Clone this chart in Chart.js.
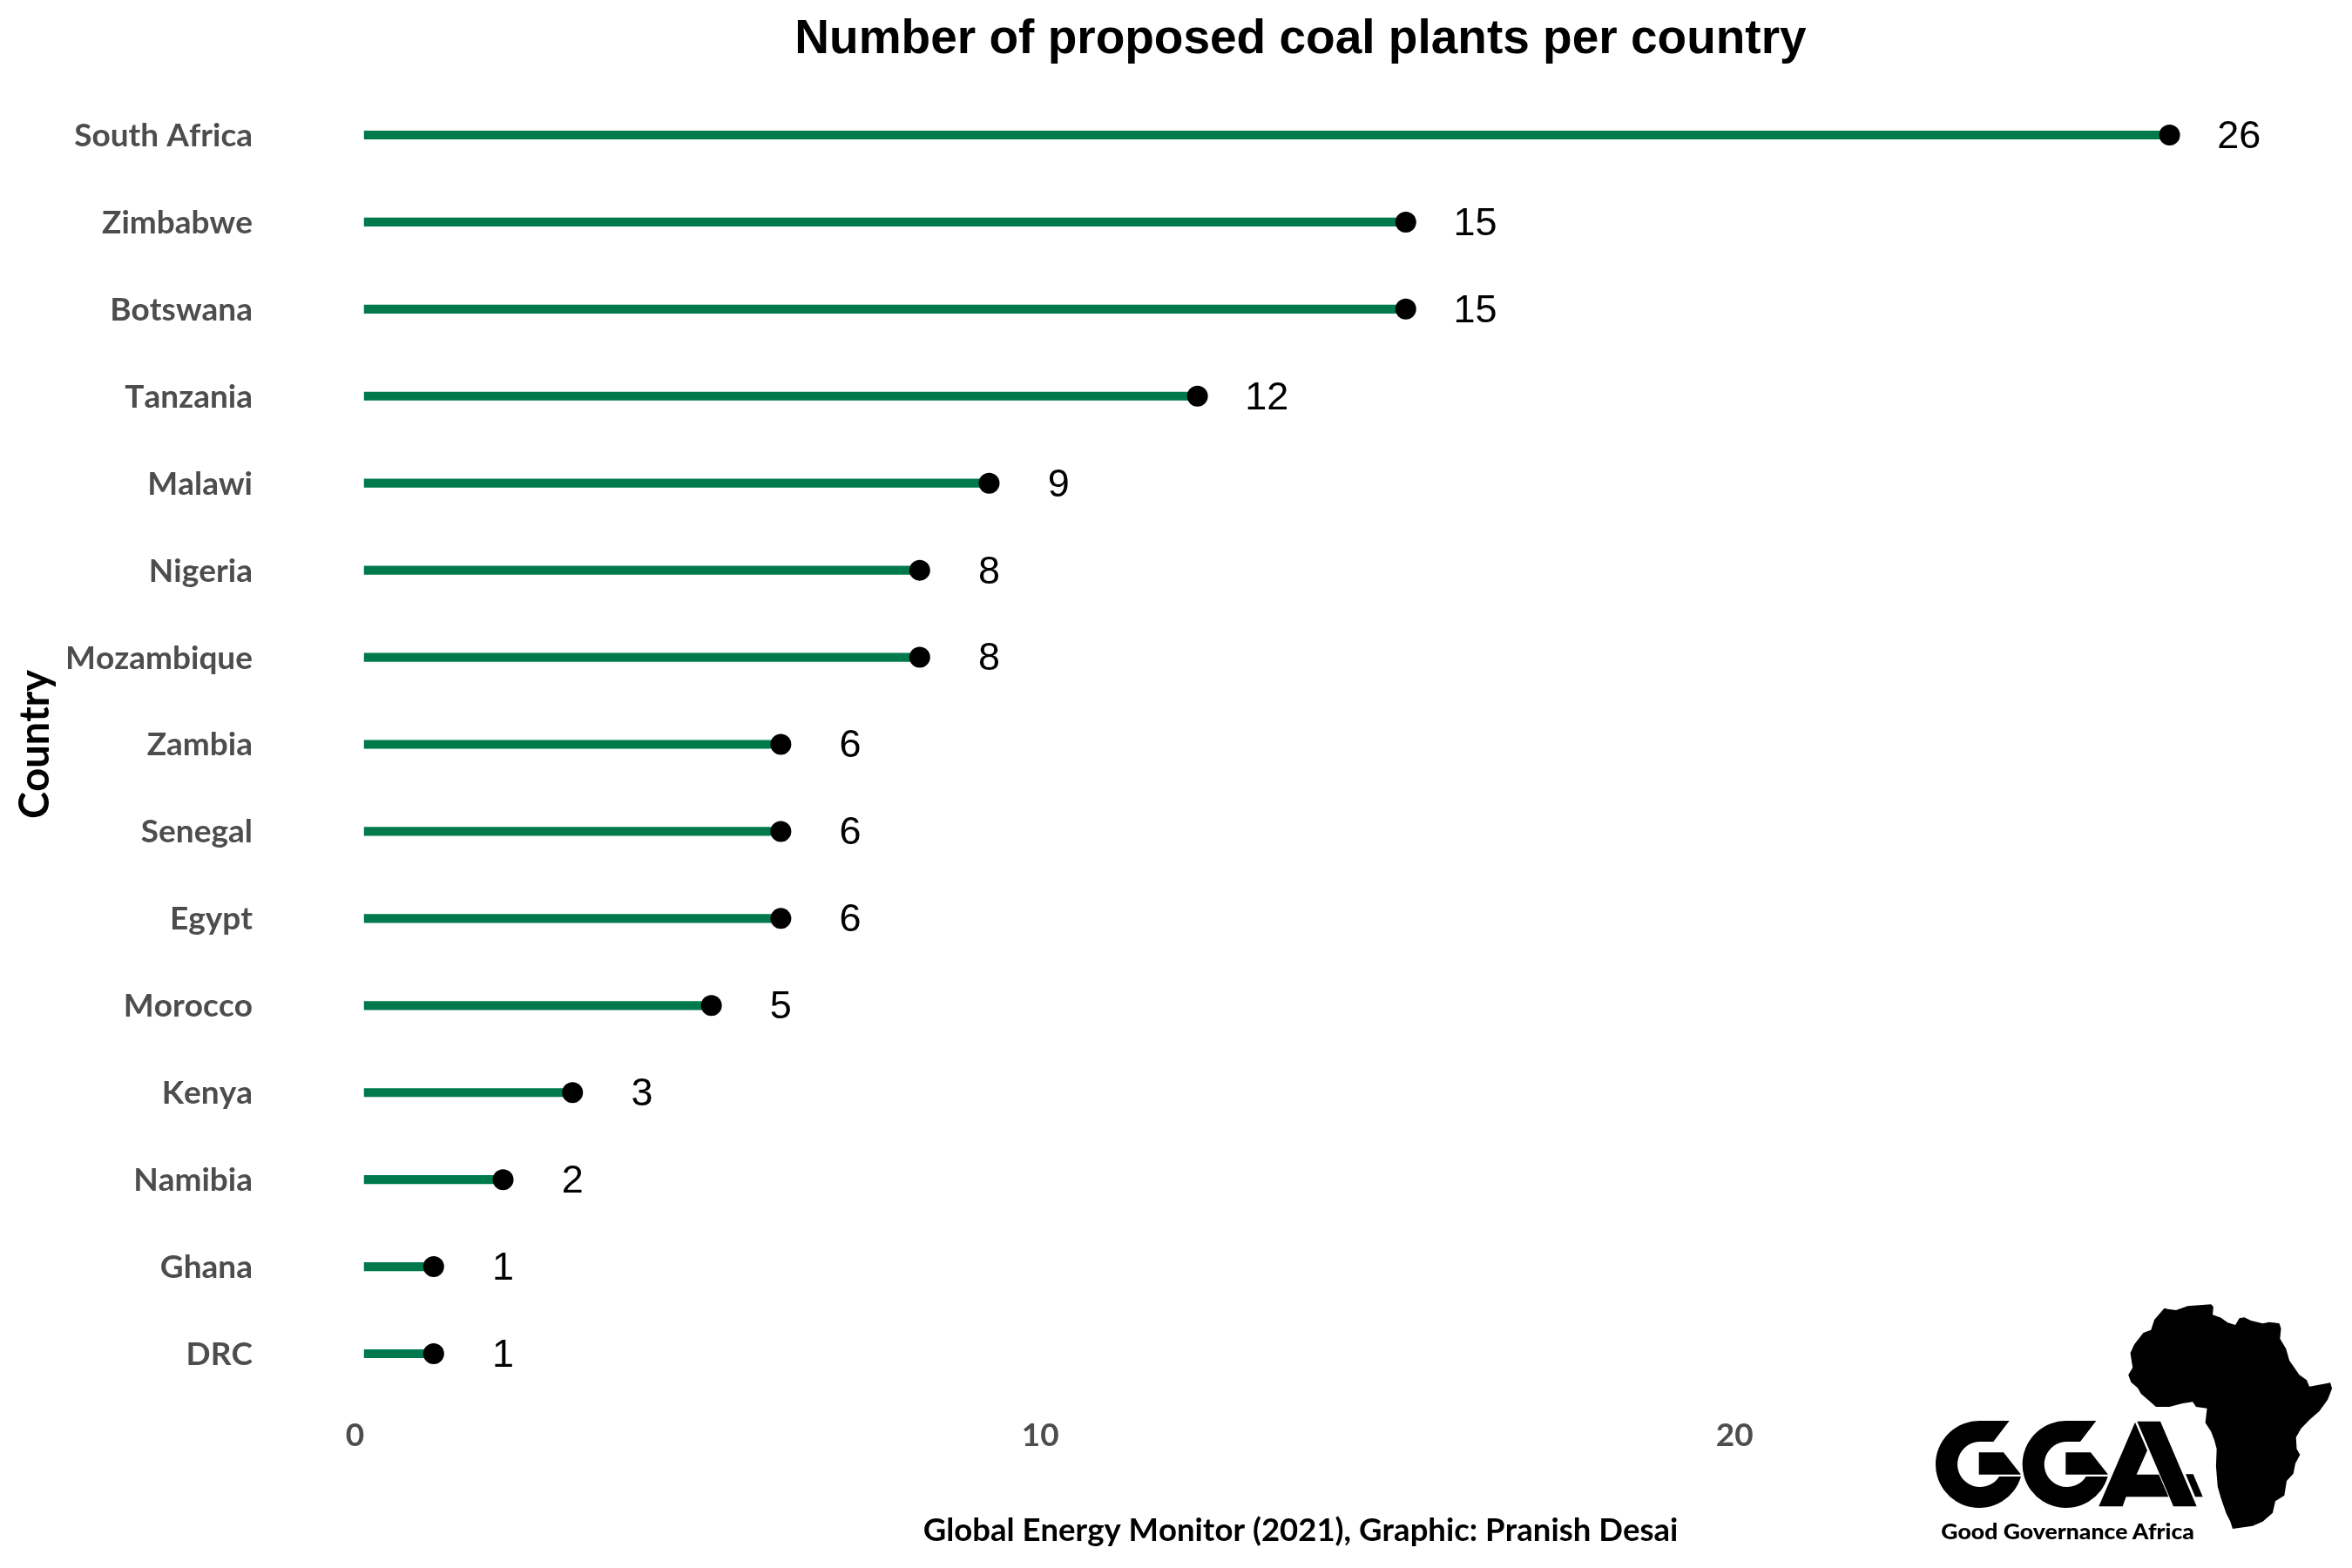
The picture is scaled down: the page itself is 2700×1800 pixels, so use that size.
<!DOCTYPE html>
<html>
<head>
<meta charset="utf-8">
<style>
html,body{margin:0;padding:0;background:#fff;width:2700px;height:1800px;overflow:hidden}
#wrap{position:relative;width:2700px;height:1800px}
canvas{position:absolute;left:0;top:0}
#logo{position:absolute;left:2100px;top:1480px;width:600px;height:320px}
</style>
<script src="https://cdn.jsdelivr.net/npm/chart.js@4"></script>
</head>
<body>
<div id="wrap">
<canvas id="c" width="2700" height="1800"></canvas>
<svg id="logo" viewBox="0 0 1800 960" xmlns="http://www.w3.org/2000/svg">
  <g transform="translate(0,-90) scale(1.148,1)">
    <polygon fill="#000" points="1005,155 1015,158 1040,162 1075,148 1145,142 1152,150 1150,178 1175,188 1195,205 1218,213 1230,190 1245,187 1265,198 1300,208 1320,203 1350,208 1355,225 1352,260 1370,295 1380,335 1395,360 1410,385 1432,403 1440,425 1465,420 1503,412 1508,432 1495,470 1470,510 1440,540 1415,570 1400,600 1402,640 1412,660 1398,690 1392,725 1372,750 1365,800 1338,820 1330,860 1300,890 1270,905 1210,915 1203,890 1190,860 1175,810 1165,770 1160,700 1162,640 1155,610 1145,580 1128,550 1133,500 1100,495 1090,478 1060,483 1020,495 980,495 960,475 935,450 925,430 905,410 897,385 910,360 903,310 915,280 942,240 965,230 975,195"/>
  </g>
  <g fill="#000">
    <path d="M620,453 L518,453 A150,150 0 1 0 660,645 L585,645 A78,78 0 1 1 518,525 L565,525 Z"/>
    <polygon points="515,562 600,562 660,638 515,638"/>
    <path d="M919,453 L817,453 A150,150 0 1 0 959,645 L884,645 A78,78 0 1 1 817,525 L864,525 Z"/>
    <polygon points="814,562 900,562 960,638 814,638"/>
    <g transform="translate(900,420)">
      <polygon points="153,38 195,135 158,218 235,218 268,295 122,295 110,328 28,328"/>
      <polygon points="160,35 240,35 365,328 285,328"/>
      <polygon points="327,217 353,217 386,295 360,295"/>
    </g>
  </g>
  <text x="385" y="862" font-family="Lato" font-weight="900" font-size="75" textLength="872" lengthAdjust="spacingAndGlyphs" fill="#000">Good Governance Africa</text>
</svg>
</div>
<script>
const countries = ["South Africa","Zimbabwe","Botswana","Tanzania","Malawi","Nigeria","Mozambique","Zambia","Senegal","Egypt","Morocco","Kenya","Namibia","Ghana","DRC"];
const plants = [26,15,15,12,9,8,8,6,6,6,5,3,2,1,1];
const tickPositions = [0.13,10,20];
const tickLabels = ["0","10","20"];
const titleText = "Number of proposed coal plants per country";
const captionText = "Global Energy Monitor (2021), Graphic: Pranish Desai";
const yTitle = "Country";

const valueLabels = {
  id:'valueLabels',
  beforeDraw(chart){ chart.ctx.fontKerning = 'none'; },
  afterDatasetsDraw(chart){
    const {ctx,scales:{x,y}} = chart;
    ctx.save();
    ctx.font = '45px "Liberation Sans"';
    ctx.fillStyle = '#000';
    ctx.textAlign = 'center';
    ctx.textBaseline = 'middle';
    plants.forEach((v,i)=>ctx.fillText(String(v), x.getPixelForValue(v+1), y.getPixelForValue(i)+2.5));
    ctx.restore();
  }
};

new Chart(document.getElementById('c'),{
  type:'bar',
  plugins:[valueLabels],
  data:{
    labels:countries,
    datasets:[
      {type:'line',indexAxis:'y',data:plants,showLine:false,pointRadius:12,pointHoverRadius:12,pointBackgroundColor:'#000',pointBorderWidth:0,order:0,clip:false},
      {type:'bar',data:plants,backgroundColor:'#007A4D',barThickness:9.5,borderSkipped:false,order:1}
    ]
  },
  options:{
    indexAxis:'y',
    responsive:false,
    devicePixelRatio:1,
    animation:false,
    layout:{padding:{left:0,right:50,top:0,bottom:0}},
    plugins:{
      legend:{display:false},
      tooltip:{enabled:false},
      title:{display:true,text:titleText,fullSize:false,color:'#000',
        font:{family:'"Liberation Sans"',size:55,weight:'bold',lineHeight:1.2},
        padding:{top:12.5,bottom:26.5}},
      subtitle:{display:true,position:'bottom',text:captionText,fullSize:false,color:'#000',
        font:{family:'Lato',size:36.5,weight:'bold',lineHeight:1.2},
        padding:{top:65,bottom:21.2}}
    },
    scales:{
      x:{
        type:'linear',min:-1.03,max:28,
        grid:{display:false,drawTicks:false},
        border:{display:false},
        afterBuildTicks(s){ s.ticks = tickPositions.map(v=>({value:v})); },
        ticks:{autoSkip:false,maxRotation:0,minRotation:0,padding:22,labelOffset:-21,color:'#4d4d4d',
          font:{family:'Lato',size:37,weight:'bold',lineHeight:1.2},
          callback(v,i){return tickLabels[i];}},
        afterFit(s){ s.height = 66; }
      },
      y:{
        grid:{display:false,drawTicks:false},
        border:{display:false},
        ticks:{autoSkip:false,padding:46,labelOffset:1,color:'#4d4d4d',
          font:{family:'Lato',size:37,weight:'bold',lineHeight:1.2}},
        title:{display:true,text:yTitle,color:'#000',
          font:{family:'Lato',size:47,weight:'bold',lineHeight:1.2},
          padding:{top:13,bottom:0}},
        afterFit(s){ s.width = 336; }
      }
    }
  }
});
</script>
</body>
</html>
